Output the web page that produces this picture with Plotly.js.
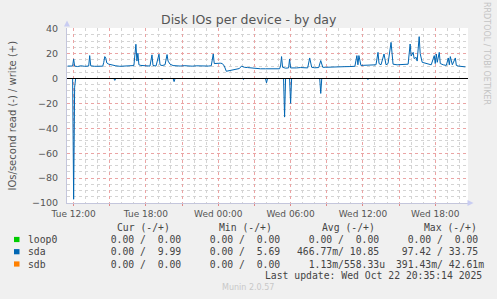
<!DOCTYPE html>
<html><head><meta charset="utf-8">
<script src="https://cdn.plot.ly/plotly-3.0.1.min.js"></script>
<style>html,body{margin:0;padding:0;background:#f0f0f0;}#chart{width:497px;height:299px;}</style>
</head><body><div id="chart"></div>
<script>
// ---------- data ----------
const sdaWriteTimes = [
"2025-10-21 11:30","2025-10-21 11:45","2025-10-21 11:55","2025-10-21 12:00","2025-10-21 12:05","2025-10-21 12:20","2025-10-21 12:35","2025-10-21 12:55",
"2025-10-21 13:15","2025-10-21 13:20","2025-10-21 13:25","2025-10-21 13:45","2025-10-21 14:05","2025-10-21 14:25","2025-10-21 14:30","2025-10-21 14:35",
"2025-10-21 14:40","2025-10-21 14:45","2025-10-21 14:55","2025-10-21 15:15","2025-10-21 15:30","2025-10-21 15:50","2025-10-21 16:10","2025-10-21 16:30",
"2025-10-21 16:50","2025-10-21 17:00","2025-10-21 17:10","2025-10-21 17:15","2025-10-21 17:20","2025-10-21 17:25","2025-10-21 17:35","2025-10-21 18:00",
"2025-10-21 18:20","2025-10-21 18:30","2025-10-21 18:35","2025-10-21 18:50","2025-10-21 19:05","2025-10-21 19:10","2025-10-21 19:20","2025-10-21 19:35",
"2025-10-21 19:45","2025-10-21 19:50","2025-10-21 20:00","2025-10-21 20:15","2025-10-21 20:30","2025-10-21 20:50","2025-10-21 21:10","2025-10-21 21:30",
"2025-10-21 21:50","2025-10-21 22:10","2025-10-21 22:30","2025-10-21 22:50","2025-10-21 23:10","2025-10-21 23:25","2025-10-21 23:35","2025-10-21 23:40",
"2025-10-21 23:55","2025-10-22 00:10","2025-10-22 00:20","2025-10-22 00:30","2025-10-22 00:40","2025-10-22 00:50","2025-10-22 01:05","2025-10-22 01:15",
"2025-10-22 01:30","2025-10-22 01:45","2025-10-22 01:55","2025-10-22 02:10","2025-10-22 02:25","2025-10-22 02:40","2025-10-22 03:05","2025-10-22 03:30",
"2025-10-22 03:55","2025-10-22 04:20","2025-10-22 04:45","2025-10-22 05:05","2025-10-22 05:10","2025-10-22 05:15","2025-10-22 05:20","2025-10-22 05:35",
"2025-10-22 05:50","2025-10-22 05:55","2025-10-22 06:00","2025-10-22 06:10","2025-10-22 06:30","2025-10-22 06:50","2025-10-22 07:10","2025-10-22 07:25",
"2025-10-22 07:35","2025-10-22 07:45","2025-10-22 08:00","2025-10-22 08:20","2025-10-22 08:30","2025-10-22 08:40","2025-10-22 08:55","2025-10-22 09:15",
"2025-10-22 09:40","2025-10-22 10:05","2025-10-22 10:30","2025-10-22 10:55","2025-10-22 11:20","2025-10-22 11:30","2025-10-22 11:35","2025-10-22 11:40",
"2025-10-22 11:50","2025-10-22 12:05","2025-10-22 12:25","2025-10-22 12:45","2025-10-22 13:05","2025-10-22 13:15","2025-10-22 13:20","2025-10-22 13:30",
"2025-10-22 13:45","2025-10-22 13:55","2025-10-22 14:05","2025-10-22 14:20","2025-10-22 14:25","2025-10-22 14:30","2025-10-22 14:50","2025-10-22 15:10",
"2025-10-22 15:30","2025-10-22 15:45","2025-10-22 15:55","2025-10-22 16:00","2025-10-22 16:10","2025-10-22 16:15","2025-10-22 16:25","2025-10-22 16:30",
"2025-10-22 16:40","2025-10-22 16:45","2025-10-22 16:55","2025-10-22 17:10","2025-10-22 17:25","2025-10-22 17:40","2025-10-22 17:55","2025-10-22 18:00",
"2025-10-22 18:05","2025-10-22 18:10","2025-10-22 18:20","2025-10-22 18:25","2025-10-22 18:40","2025-10-22 18:55","2025-10-22 19:05","2025-10-22 19:10",
"2025-10-22 19:15","2025-10-22 19:25","2025-10-22 19:40","2025-10-22 19:45","2025-10-22 19:55","2025-10-22 20:10","2025-10-22 20:25","2025-10-22 20:30"
];
const sdaWriteValues = [
10.0,9.8,10.0,15.7,10.0,9.6,10.2,9.8,
10.0,18.4,10.2,9.8,10.0,9.9,13,17.6,
16.5,12.5,11.5,10.5,10.2,9.8,10.0,10.0,
9.9,10.4,27.5,14,20.3,11,10.5,10.2,
10.0,19,10.5,10.0,19.5,11,10.4,11,
19.2,14,11.5,10.4,10.2,10.0,10.3,10.0,
9.9,10.2,10.0,9.8,10.0,10.2,19.7,12,
12.3,12.3,12.0,10.0,5.8,6.2,7.0,6.8,
7.7,8.0,9.9,9.0,8.8,8.5,8.0,7.8,
7.8,7.8,7.8,7.8,10,17.6,9,8.3,
8.5,15.7,8.5,8.3,8.5,8.8,8.6,8.5,
16.5,9,8.6,8.8,14.4,9,9.0,9.2,
9.3,9.5,9.5,9.6,9.8,18.4,11,18.4,
10.5,10.6,10.8,10.5,11,21,12,11,
19.7,11,12,29,16,11.5,11.0,11.2,
11.0,11.5,27.7,18,21,16,17,14,
33.6,20,13,12.3,11.5,11,18.4,12,
19.7,13,21,12,11,10.5,16.5,11,
17.6,11,16.5,10.5,10.0,9.6,9.2,9.3
];
const sdaReadTimes = [
"2025-10-21 11:30","2025-10-21 11:55","2025-10-21 12:00","2025-10-21 12:05","2025-10-21 12:10",
"2025-10-21 15:20","2025-10-21 15:25","2025-10-21 15:30",
"2025-10-21 16:40","2025-10-21 16:45","2025-10-21 16:50",
"2025-10-21 19:15","2025-10-21 19:20","2025-10-21 19:25",
"2025-10-21 20:15","2025-10-21 20:20","2025-10-21 20:25",
"2025-10-22 02:00","2025-10-22 02:05","2025-10-22 02:10",
"2025-10-22 03:55","2025-10-22 04:00","2025-10-22 04:05",
"2025-10-22 05:25","2025-10-22 05:30","2025-10-22 05:35",
"2025-10-22 05:55","2025-10-22 06:00","2025-10-22 06:05",
"2025-10-22 08:25","2025-10-22 08:30","2025-10-22 08:35",
"2025-10-22 12:20","2025-10-22 12:25","2025-10-22 12:30",
"2025-10-22 20:30"
];
const sdaReadValues = [
0,0,97,7,0,
0,1.5,0,
0,0.5,0,
0,0.8,0,
0,2.5,0,
0,0.8,0,
0,3.5,0,
0,31,0,
0,20,0,
0,12,0,
0,0.8,0,
0
];
const flatTimes = ["2025-10-21 11:30","2025-10-22 20:30"];
const loop0Read = [0,0], loop0Write = [0,0];
const sdbRead = [0,0], sdbWrite = [0,0];

const seriesNames = ["loop0","sda","sdb"];
const curText = ["  0.00 /  0.00 ","  0.00 /  9.99 ","  0.00 /  0.00 "];
const minText = ["  0.00 /  0.00 ","  0.00 /  5.69 ","  0.00 /  0.00 "];
const avgText = ["  0.00 /  0.00 ","466.77m/ 10.85 ","  1.13m/558.33u"];
const maxText = ["  0.00 /  0.00 "," 97.42 / 33.75 ","391.43m/ 42.61m"];
const headerText = ["Cur (-/+)","Min (-/+)","Avg (-/+)","Max (-/+)"];
const lastUpdate = "Last update: Wed Oct 22 20:35:14 2025";
const xRange = ["2025-10-21 11:27","2025-10-22 20:43"];
const zeroLineValues = [0,0];

// ---------- styles / layout helpers ----------
const colors = ["#00CC00","#0066B3","#FF8000"];
const W=497,H=299, L=67, R=468, T=28, B=203;
const px = x => (x-L)/(R-L);
const py = y => (B-y)/(B-T);
const nb = s => s.replace(/ /g,"\u00a0");
const neg = a => a.map(v=>-v);

const lineTrace = (x,y,c)=>({x:x,y:y,type:"scatter",mode:"lines",line:{color:c,width:1},hoverinfo:"skip",showlegend:false});
const traces = [
  lineTrace(flatTimes, neg(loop0Read), colors[0]),
  lineTrace(flatTimes, loop0Write, colors[0]),
  lineTrace(sdaReadTimes, neg(sdaReadValues), colors[1]),
  lineTrace(sdaWriteTimes, sdaWriteValues, colors[1]),
  lineTrace(flatTimes, neg(sdbRead), colors[2]),
  lineTrace(flatTimes, sdbWrite, colors[2]),
  lineTrace(xRange, zeroLineValues, "#000000")
];

const txtColor="#555555";
const ann = [];
const A = (text,x,y,opt)=>ann.push(Object.assign({text:text,x:px(x),y:py(y),xref:"paper",yref:"paper",showarrow:false,borderpad:0,xanchor:"left",yanchor:"middle",font:{family:"DejaVu Sans Mono",size:9.75,color:"#444"}},opt||{}));

A("Disk IOs per device - by day",248.5,19.5,{xanchor:"center",font:{family:"DejaVu Sans",size:12.5,color:txtColor}});
A("IOs/second read (-) / write (+)",12,115.5,{xanchor:"center",textangle:-90,font:{family:"DejaVu Sans",size:10,color:txtColor}});
A("RRDTOOL / TOBI OETIKER",487,53,{xanchor:"center",textangle:90,font:{family:"DejaVu Sans",size:8,color:"#c4c4c4"}});
const headX=[116,218.3,320.7,422.7];
headerText.forEach((h,i)=>A(nb(h),headX[i],227.7));
const rowY=[239.5,251.7,264];
const cols=[curText,minText,avgText,maxText];
const shapes=[];
seriesNames.forEach((n,r)=>{
  A(n,27,rowY[r]);
  cols.forEach((c,k)=>A(nb(c[r]),98.3+99*k,rowY[r]));
  shapes.push({type:"rect",xref:"paper",yref:"paper",x0:px(14),x1:px(19.5),y0:py(rowY[r]-2.6),y1:py(rowY[r]+2.6),fillcolor:colors[r],line:{width:0},layer:"above"});
});
A(nb(lastUpdate),483,275.7,{xanchor:"right"});
A("Munin 2.0.57",247.5,287.7,{xanchor:"center",font:{family:"DejaVu Sans",size:8,color:"#c8c8c8"}});

// arrows
const tri=(pts)=>"M"+pts.map(p=>px(p[0])+","+py(p[1])).join(" L")+" Z";
shapes.push({type:"path",xref:"paper",yref:"paper",path:tri([[67,20.5],[64,26.5],[70,26.5]]),fillcolor:"#c8ccf2",line:{width:0}});
shapes.push({type:"path",xref:"paper",yref:"paper",path:tri([[473.5,203],[467.5,200],[467.5,206]]),fillcolor:"#c8ccf2",line:{width:0}});

// minor grid positions (skip those on major lines)
const yMinor=[]; for(let v=-95; v<40; v+=5){ if(v%20!==0) yMinor.push(v); }
const xMinor=[]; { const t0=Date.parse("2025-10-21T11:00:00Z"); for(let h=0; h<35; h++){ if((h+11-12)%3!==0){ const d=new Date(t0+h*3600000).toISOString().slice(0,16).replace("T"," "); xMinor.push(d);} } }

const layout = {
  width:W,height:H,
  margin:{l:L,r:W-R,t:T,b:H-B,pad:0},
  paper_bgcolor:"#f0f0f0",plot_bgcolor:"#ffffff",
  showlegend:false,
  xaxis:{type:"date",range:xRange,
    tickmode:"linear",tick0:"2025-10-21 12:00",dtick:3*3600000,ticklabelstep:2,tickformat:"%a %H:%M",
    showgrid:true,gridcolor:"#eba4a4",griddash:"dot",gridwidth:1,
    ticks:"outside",ticklen:2,tickcolor:"#e08888",
    tickfont:{family:"DejaVu Sans",size:9,color:txtColor},
    showline:true,linecolor:"#c4c6dc",linewidth:1,zeroline:false,fixedrange:true,
    minor:{tickmode:"array",tickvals:xMinor,showgrid:true,gridcolor:"#d4d4d4",griddash:"dot",gridwidth:1,ticks:""}
  },
  yaxis:{range:[-100,40.56],tickmode:"linear",tick0:0,dtick:20,
    showgrid:true,gridcolor:"#eba4a4",griddash:"dot",gridwidth:1,
    ticks:"",ticklabelstandoff:6,
    tickfont:{family:"DejaVu Sans",size:9.5,color:txtColor},
    showline:true,linecolor:"#c4c6dc",linewidth:1,zeroline:false,fixedrange:true,
    minor:{tickmode:"array",tickvals:yMinor,showgrid:true,gridcolor:"#d4d4d4",griddash:"dot",gridwidth:1,ticks:""}
  },
  annotations:ann,shapes:shapes
};
Plotly.newPlot("chart",traces,layout,{staticPlot:true,displayModeBar:false});
</script>
</body></html>
